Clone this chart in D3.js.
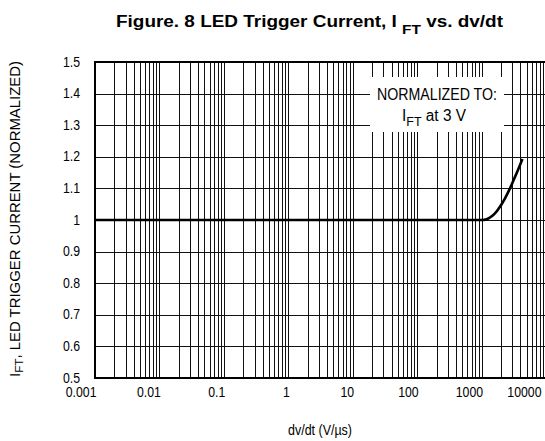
<!DOCTYPE html>
<html>
<head>
<meta charset="utf-8">
<script src="https://cdn.jsdelivr.net/npm/d3@7"></script>
<style>
  body { margin: 0; background: #fff; }
  svg { display: block; font-family: "Liberation Sans", Arial, sans-serif; }
</style>
</head>
<body>
<div id="graph"></div>
<script>
// chart data
var dvdt = [0.001, 1000, 1200, 1350, 1600, 1930, 2300, 2760, 3200, 3700, 4300];
var iftNorm = [1.0, 1.0, 1.002, 1.008, 1.02, 1.042, 1.068, 1.10, 1.13, 1.16, 1.193];
var xTickValues = [0.001, 0.01, 0.1, 1, 10, 100, 1000, 10000];
var xTickLabels = ["0.001", "0.01", "0.1", "1", "10", "100", "1000", "10000"];
var yTickValues = [0.5, 0.6, 0.7, 0.8, 0.9, 1, 1.1, 1.2, 1.3, 1.4, 1.5];
var yTickLabels = ["0.5", "0.6", "0.7", "0.8", "0.9", "1", "1.1", "1.2", "1.3", "1.4", "1.5"];

var width = 545;
var height = 441;
var plot = { left: 95, right: 546, top: 62, bottom: 378 };
var condense = "scale(0.82,1)";

var svg = d3.select("#graph").append("svg")
    .attr("width", width)
    .attr("height", height);

var x = d3.scaleLog().domain([0.001, 10000]).range([plot.left, plot.right]);
var y = d3.scaleLinear().domain([0.5, 1.5]).range([plot.bottom, plot.top]);

// log grid, 1..9 in every decade
var gridX = [];
for (var d = 0.001; d < 10000; d *= 10) {
    for (var k = 1; k < 10; k++) gridX.push(+(d * k).toPrecision(3));
}
svg.append("g").selectAll("line")
    .data(gridX)
    .enter().append("line")
    .attr("x1", function(v) { return Math.round(x(v)) + 0.5; })
    .attr("x2", function(v) { return Math.round(x(v)) + 0.5; })
    .attr("y1", plot.top)
    .attr("y2", plot.bottom)
    .attr("stroke", "#111")
    .attr("stroke-width", 1);

svg.append("g").selectAll("line")
    .data(yTickValues)
    .enter().append("line")
    .attr("x1", plot.left)
    .attr("x2", plot.right)
    .attr("y1", function(v) { return Math.round(y(v)) + 0.5; })
    .attr("y2", function(v) { return Math.round(y(v)) + 0.5; })
    .attr("stroke", "#111")
    .attr("stroke-width", 1);

// legend box covers the grid
var legend = svg.append("g");
legend.append("rect")
    .attr("x", 370).attr("y", 77)
    .attr("width", 134).attr("height", 55)
    .attr("fill", "#fff");
legend.append("text")
    .attr("x", 377).attr("y", 100)
    .attr("font-size", 16)
    .attr("textLength", 120)
    .attr("lengthAdjust", "spacingAndGlyphs")
    .text("NORMALIZED TO:");
var l2 = legend.append("text")
    .attr("x", 402).attr("y", 121)
    .attr("font-size", 16)
    .attr("textLength", 64)
    .attr("lengthAdjust", "spacingAndGlyphs");
l2.append("tspan").text("I");
l2.append("tspan").attr("font-size", 13).attr("dy", 5).text("FT");
l2.append("tspan").attr("dy", -5).text(" at 3 V");

// frame
svg.append("rect")
    .attr("x", plot.left).attr("y", plot.top)
    .attr("width", plot.right - plot.left)
    .attr("height", plot.bottom - plot.top)
    .attr("fill", "none")
    .attr("stroke", "#000")
    .attr("stroke-width", 2);

// the curve
var line = d3.line()
    .x(function(d) { return x(d[0]); })
    .y(function(d) { return y(d[1]); })
    .curve(d3.curveMonotoneX);
svg.append("path")
    .datum(d3.zip(dvdt, iftNorm))
    .attr("d", line)
    .attr("fill", "none")
    .attr("stroke", "#000")
    .attr("stroke-width", 2.6);

// axes (labels only)
var xAxis = svg.append("g")
    .attr("transform", "translate(0," + plot.bottom + ")")
    .call(d3.axisBottom(x)
        .tickValues(xTickValues)
        .tickFormat(function(v, i) { return xTickLabels[i]; })
        .tickSize(0));
xAxis.select(".domain").remove();
xAxis.selectAll("text")
    .attr("x", null).attr("y", null).attr("dy", null)
    .attr("text-anchor", "end")
    .attr("fill", "#000")
    .attr("font-family", "Liberation Sans, Arial, sans-serif")
    .attr("font-size", 15)
    .attr("transform", function(v) {
        var shift = Math.min(x(v) + 1, 541) - x(v);
        return "translate(" + shift + ",19) " + condense;
    });

var yAxis = svg.append("g")
    .attr("transform", "translate(" + plot.left + ",0)")
    .call(d3.axisLeft(y)
        .tickValues(yTickValues)
        .tickFormat(function(v, i) { return yTickLabels[i]; })
        .tickSize(0));
yAxis.select(".domain").remove();
yAxis.selectAll("text")
    .attr("x", null).attr("dy", null)
    .attr("text-anchor", "end")
    .attr("fill", "#000")
    .attr("font-family", "Liberation Sans, Arial, sans-serif")
    .attr("font-size", 15)
    .attr("transform", "translate(-15,4) " + condense);

// title
var title = svg.append("text")
    .attr("x", 116).attr("y", 27)
    .attr("font-size", 16)
    .attr("font-weight", "bold")
    .attr("textLength", 387)
    .attr("lengthAdjust", "spacingAndGlyphs");
title.append("tspan").text("Figure. 8 LED Trigger Current, I ");
title.append("tspan").attr("font-size", 13).attr("dy", 7).text("FT");
title.append("tspan").attr("dy", -7).text(" vs. dv/dt");

// axis titles
svg.append("text")
    .attr("x", 288).attr("y", 435)
    .attr("font-size", 15)
    .attr("textLength", 64)
    .attr("lengthAdjust", "spacingAndGlyphs")
    .text("dv/dt (V/\u00b5s)");

var yTitle = svg.append("text")
    .attr("transform", "translate(20,377) rotate(-90)")
    .attr("font-size", 14)
    .attr("textLength", 316)
    .attr("lengthAdjust", "spacingAndGlyphs");
yTitle.append("tspan").text("I");
yTitle.append("tspan").attr("font-size", 11).attr("dy", 3).text("FT");
yTitle.append("tspan").attr("dy", -3).text(", LED TRIGGER CURRENT  (NORMALIZED)");
</script>
</body>
</html>
